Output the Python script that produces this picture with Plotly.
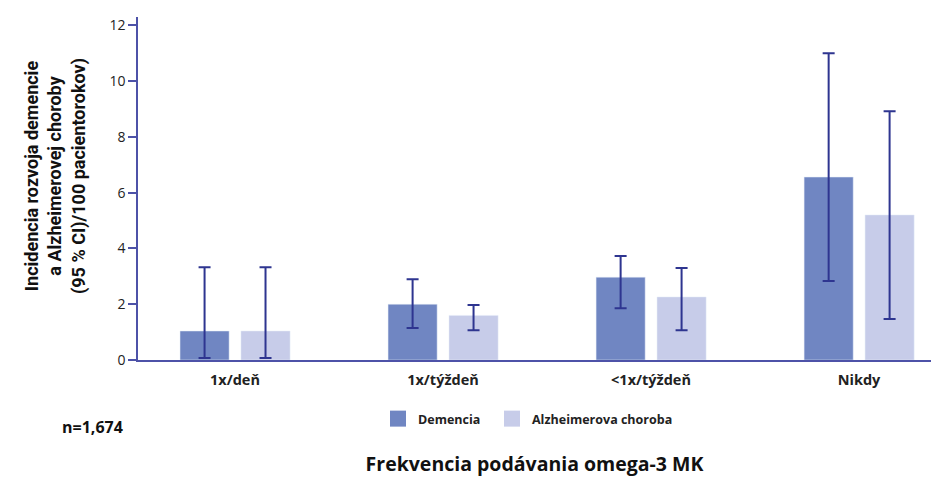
import plotly.graph_objects as go

categories = ["1x/deň", "1x/týždeň", "<1x/týždeň", "Nikdy"]
dem_values = [1.04, 2.0, 2.97, 6.56]
dem_upper = [3.33, 2.9, 3.73, 11.0]
dem_lower = [0.07, 1.15, 1.86, 2.83]
alz_values = [1.04, 1.6, 2.26, 5.2]
alz_upper = [3.33, 1.97, 3.3, 8.92]
alz_lower = [0.07, 1.07, 1.07, 1.47]
y_ticks = [0, 2, 4, 6, 8, 10, 12]

DEM_COLOR = "#7086c2"
ALZ_COLOR = "#c7cce9"
ERR_COLOR = "#2e3590"
AXIS_COLOR = "#4d52a8"
FONT = "Open Sans"
TITLE_FONT = "Roboto"

x_idx = list(range(len(categories)))

def err(vals, up, lo):
    return dict(type="data", symmetric=False,
                array=[u - v for u, v in zip(up, vals)],
                arrayminus=[v - l for v, l in zip(vals, lo)],
                color=ERR_COLOR, thickness=2, width=6)

fig = go.Figure()
fig.add_trace(go.Bar(x=x_idx, y=dem_values, name="Demencia", marker_color=DEM_COLOR,
                     width=0.236, offset=-0.264, showlegend=False, legendgroup="dem",
                     error_y=err(dem_values, dem_upper, dem_lower)))
fig.add_trace(go.Bar(x=x_idx, y=alz_values, name="Alzheimerova choroba", marker_color=ALZ_COLOR,
                     width=0.236, offset=0.029, showlegend=False, legendgroup="alz",
                     error_y=err(alz_values, alz_upper, alz_lower)))
# legend entries (square swatches) linked to the bar traces
fig.add_trace(go.Scatter(x=[None], y=[None], mode="markers", name="Demencia", legendgroup="dem",
                         marker=dict(symbol="square", size=16, color=DEM_COLOR), legend="legend"))
fig.add_trace(go.Scatter(x=[None], y=[None], mode="markers", name="Alzheimerova choroba", legendgroup="alz",
                         marker=dict(symbol="square", size=16, color=ALZ_COLOR), legend="legend2"))

legend_common = dict(orientation="h", yanchor="middle", xanchor="left", itemsizing="trace",
                     font=dict(size=12.5, color="#222222", weight="bold"),
                     bgcolor="rgba(0,0,0,0)", borderwidth=0)

fig.update_layout(
    width=931, height=477,
    margin=dict(l=138, r=0, t=17, b=117),
    paper_bgcolor="white", plot_bgcolor="white",
    barmode="overlay",
    font=dict(family=FONT, color="#222222"),
    showlegend=True,
    legend=dict(x=(378 - 138) / 793, y=(360 - 419) / 343, **legend_common),
    legend2=dict(x=(492 - 138) / 793, y=(360 - 419) / 343, **legend_common),
    xaxis=dict(range=[-0.466, 3.346], tickmode="array", tickvals=x_idx, ticktext=categories,
               showgrid=False, zeroline=False, showline=True, linecolor=AXIS_COLOR, linewidth=1.5,
               ticks="", tickfont=dict(size=14.5, color="#222222", weight="bold"),
               ticklabelstandoff=6,
               title=dict(text="Frekvencia podávania omega-3 MK",
                          font=dict(size=19.5, color="#111111", weight="bold"), standoff=70),
               automargin=False),
    yaxis=dict(range=[0, 12.3], tickmode="array", tickvals=y_ticks,
               showgrid=False, zeroline=False, showline=True, linecolor=AXIS_COLOR, linewidth=1.5,
               ticks="outside", ticklen=8, tickcolor=AXIS_COLOR, tickwidth=1.5,
               tickfont=dict(size=14, color="#222222"),
               automargin=False),
    annotations=[
        dict(text="Incidencia rozvoja demencie<br>a Alzheimerovej choroby<br>(95 % CI)/100 pacientorokov)",
             xref="paper", yref="paper", x=(55 - 138) / 793, y=(360 - 176) / 343,
             xanchor="center", yanchor="middle", textangle=-90, showarrow=False,
             font=dict(family=TITLE_FONT, size=18, color="#111111", weight="bold")),
        dict(text="n=1,674", xref="paper", yref="paper", x=(92 - 138) / 793, y=(360 - 427) / 343,
             xanchor="center", yanchor="middle", showarrow=False,
             font=dict(size=16, color="#111111", weight="bold")),
    ],
)

fig.write_html("out.html", config={"displayModeBar": False},
               post_script="document.body.style.margin='0';document.body.style.overflow='hidden';")
